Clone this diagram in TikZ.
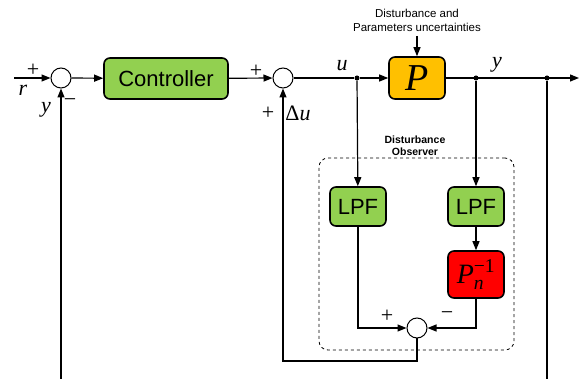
\documentclass[tikz,border=0pt]{standalone}
\usepackage{amsmath}
\usepackage{fontspec}
\setmainfont{Liberation Serif}
\setsansfont{Liberation Sans}
\usetikzlibrary{arrows.meta}
\definecolor{ctrlgreen}{HTML}{92D050}
\definecolor{porange}{HTML}{FFC000}
\definecolor{pred}{HTML}{FF0000}
\begin{document}
\begin{tikzpicture}[x=1pt,y=-1pt,
  blk/.style={draw, line width=1.6pt, rounded corners=6pt, inner sep=0pt, font=\sffamily\fontsize{22}{24}\selectfont},
  sumc/.style={circle, draw, line width=1pt, minimum size=20pt, inner sep=0pt, fill=white},
  conn/.style={line width=1.2pt, -{Triangle[length=9pt,width=7pt]}},
  ln/.style={line width=1.2pt},
  dotn/.style={circle, fill, inner sep=0pt, minimum size=5pt},
  lbl/.style={font=\rmfamily\fontsize{22}{24}\selectfont, inner sep=0pt}]
\useasboundingbox (0,0) rectangle (582,379);
% main path nodes
\coordinate (in) at (14,78);
\node[sumc] (s1) at (61,78) {};
\node[blk, fill=ctrlgreen, minimum width=124pt, minimum height=41pt] (ctrl) at (166,78.5) {Controller};
\node[sumc] (s2) at (283,78) {};
\node[dotn] (u) at (357,78) {};
\node[blk, fill=porange, minimum width=56pt, minimum height=42pt] (P) at (417,78) {\rmfamily\fontsize{38}{38}\selectfont\textit{P}};
\node[dotn] (yd1) at (476,78) {};
\node[dotn] (yd2) at (547,78) {};
\coordinate (out) at (579,78);
\node[font=\sffamily\fontsize{11.5}{14}\selectfont, align=center, inner sep=0pt] (dist) at (417,20) {Disturbance and\\Parameters uncertainties};
\coordinate (dtop) at (417,36);
% observer
\node[draw, dashed, rounded corners=9pt, line width=0.8pt, minimum width=195pt, minimum height=192pt, inner sep=0pt] (obs) at (416.5,254) {};
\node[font=\sffamily\bfseries\fontsize{10.5}{12.5}\selectfont, align=center, inner sep=0pt] (obsl) at (415,146) {Disturbance\\Observer};
\node[blk, fill=ctrlgreen, minimum width=56pt, minimum height=39pt] (lpf1) at (358,206.5) {LPF};
\node[blk, fill=ctrlgreen, minimum width=56pt, minimum height=39pt] (lpf2) at (476,206.5) {LPF};
\node[blk, fill=pred, minimum width=56pt, minimum height=47pt] (pn) at (476,274.5) {\rmfamily\fontsize{28}{28}\selectfont$\textit{P}^{\text{\textminus 1}}_{\textit{n}}$};
\node[sumc] (s3) at (417,328) {};
\coordinate (c2) at (283,361);
\coordinate (b1) at (61,379);
\coordinate (b2) at (547,379);
% connectors
\draw[conn] (in) -- (s1);
\draw[conn] (s1) -- (ctrl);
\draw[conn] (ctrl) -- (s2);
\draw[ln] (s2) -- (u);
\draw[conn] (u) -- (P);
\draw[conn] (P) -- (out);
\draw[conn] (dtop) -- (P);
\draw[conn] (u) -- (lpf1);
\draw[conn] (yd1) -- (lpf2);
\draw[conn] (lpf2) -- (pn);
\draw[conn] (lpf1) |- (s3);
\draw[conn] (pn) |- (s3);
\draw[conn] (s3) |- (c2) -- (s2);
\draw[conn] (b1) -- (s1);
\draw[ln] (yd2) -- (b2);
% labels
\node[lbl] (l1) at (33,70) {+};
\node[lbl] (l2) at (23,90) {\textit{r}};
\node[lbl] (l3) at (46,110) {\textit{y}};
\node[lbl] (l4) at (70,103) {\textminus};
\node[lbl] (l5) at (256,71) {+};
\node[lbl] (l6) at (268,113) {+};
\node[lbl] (l7) at (298,113) {Δ\textit{u}};
\node[lbl] (l8) at (342,66) {\textit{u}};
\node[lbl] (l9) at (497,65) {\textit{y}};
\node[lbl] (l10) at (387,316) {+};
\node[lbl] (l11) at (447,316) {\textminus};
\end{tikzpicture}
\end{document}
